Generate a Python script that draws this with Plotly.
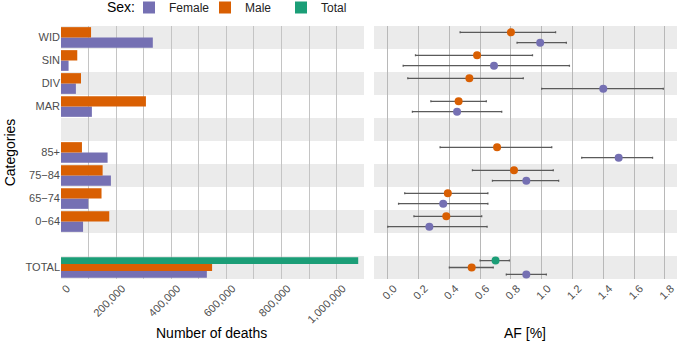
import plotly.graph_objects as go

# ---- data ----
rows_top_to_bottom = ["WID", "SIN", "DIV", "MAR", "", "85+", "75−84", "65−74", "0−64", "", "TOTAL"]
cats = ["WID", "SIN", "DIV", "MAR", "85+", "75−84", "65−74", "0−64", "TOTAL"]
deaths_female = [333000, 27500, 54000, 112000, 169000, 181000, 99000, 80000, 529000]
deaths_male = [109000, 59000, 72500, 308000, 76000, 151000, 147000, 175000, 548000]
total_cats = ["TOTAL"]
deaths_total = [1078000]

af_female = [0.99, 0.69, 1.40, 0.45, 1.50, 0.90, 0.36, 0.27, 0.90]
af_female_lo = [0.84, 0.10, 1.00, 0.16, 1.26, 0.68, 0.07, 0.00, 0.77]
af_female_hi = [1.16, 1.18, 1.79, 0.74, 1.72, 1.11, 0.65, 0.645, 1.03]
af_male = [0.80, 0.58, 0.53, 0.46, 0.71, 0.82, 0.39, 0.38, 0.545]
af_male_lo = [0.47, 0.18, 0.13, 0.28, 0.34, 0.55, 0.11, 0.17, 0.40]
af_male_hi = [1.09, 0.94, 0.88, 0.64, 1.065, 1.075, 0.65, 0.61, 0.685]
af_total = [0.70]
af_total_lo = [0.60]
af_total_hi = [0.79]

x_ticks_af = [0.0, 0.2, 0.4, 0.6, 0.8, 1.0, 1.2, 1.4, 1.6, 1.8]

COL = {"Female": "#7570B3", "Male": "#D95F02", "Total": "#1B9E77"}
W, H = 677, 347
FONT = "Liberation Sans, Arial, sans-serif"

n_rows = len(rows_top_to_bottom)
row_pos = {}
for i, r in enumerate(rows_top_to_bottom):
    if r:
        row_pos[r] = n_rows - 1 - i

DODGE = 0.9


def ngroups(c):
    return 3 if c in total_cats else 2


def slot(c, k):
    # k: 0 = Female, 1 = Male, 2 = Total ; returns (offset, width)
    n = ngroups(c)
    w = DODGE / n
    return -DODGE / 2 + k * w, w


fig = go.Figure()

series = [
    ("Female", cats, deaths_female, af_female, af_female_lo, af_female_hi, 0),
    ("Male", cats, deaths_male, af_male, af_male_lo, af_male_hi, 1),
    ("Total", total_cats, deaths_total, af_total, af_total_lo, af_total_hi, 2),
]

for name, cs, deaths, af, lo, hi, k in series:
    ys = [row_pos[c] for c in cs]
    offs = [slot(c, k)[0] for c in cs]
    wids = [slot(c, k)[1] for c in cs]
    fig.add_trace(go.Bar(
        x=deaths, y=ys, orientation="h", name=name, legendgroup=name,
        offset=offs, width=wids, marker=dict(color=COL[name], line=dict(width=0)),
        xaxis="x", yaxis="y", showlegend=True,
    ))
    yc = [row_pos[c] + slot(c, k)[0] + slot(c, k)[1] / 2 for c in cs]
    fig.add_trace(go.Scatter(
        x=af, y=yc, mode="markers", name=name, legendgroup=name, showlegend=False,
        marker=dict(color=COL[name], size=8),
        error_x=dict(type="data", symmetric=False,
                     array=[h - v for h, v in zip(hi, af)],
                     arrayminus=[v - l for v, l in zip(af, lo)],
                     color="#5a5a5a", thickness=1.3, width=1),
        xaxis="x2", yaxis="y2",
    ))

# background bands
shapes = []
for r in range(0, n_rows, 2):
    for xr in ("x domain", "x2 domain"):
        shapes.append(dict(type="rect", xref=xr, yref="y", x0=0, x1=1,
                           y0=r - 0.5, y1=r + 0.5, fillcolor="#EBEBEB",
                           line=dict(width=0), layer="below"))

ydom = [68 / H, 321 / H]
tickfont = dict(family=FONT, size=11, color="#4D4D4D")
titlefont = dict(family=FONT, size=14, color="#000000")


def label(text, xpx, ypx, size=14):
    return dict(text=text, x=xpx / W, y=1 - ypx / H, xref="paper", yref="paper",
                xanchor="center", yanchor="middle", showarrow=False,
                font=dict(family=FONT, size=size, color="#000"))


sex_lbl = label("Sex:", 105, 7)
sex_lbl["xanchor"] = "left"

fig.update_layout(
    width=W, height=H, margin=dict(l=0, r=0, t=0, b=0, autoexpand=False),
    paper_bgcolor="white", plot_bgcolor="rgba(0,0,0,0)",
    barmode="overlay", shapes=shapes,
    font=dict(family=FONT),
    legend=dict(orientation="h", x=129 / W, xanchor="left", y=1.0 + 7 / H, yanchor="top",
                itemwidth=30, entrywidth=31, entrywidthmode="pixels",
                font=dict(family=FONT, size=12, color="#222"),
                bgcolor="rgba(0,0,0,0)", itemclick=False),
    annotations=[sex_lbl,
                 label("Number of deaths", 212, 333),
                 label("AF [%]", 525, 333)],
    xaxis=dict(domain=[61 / W, 364 / W], range=[0, 1099000], anchor="y",
               automargin=False, ticklabelshift=6,
               tickformat=",", dtick=200000, tick0=0, tickangle=-45,
               showgrid=True, gridcolor="#C4C4C4", gridwidth=1,
               minor=dict(dtick=100000, showgrid=True, gridcolor="#C4C4C4", gridwidth=1),
               zeroline=False, showline=False, ticks="", tickfont=tickfont),
    yaxis=dict(domain=ydom, range=[-0.5, n_rows - 0.5], anchor="x",
               automargin=False,
               tickvals=[n_rows - 1 - i for i in range(n_rows)],
               ticktext=rows_top_to_bottom, showgrid=False, zeroline=False,
               ticks="", tickfont=tickfont,
               title=dict(text="Categories", font=titlefont, standoff=6)),
    xaxis2=dict(domain=[374 / W, 1.0], range=[-0.0897, 1.879], anchor="y2",
                automargin=False, ticklabelshift=6,
                tickvals=x_ticks_af, tickformat=".1f", tickangle=-45,
                showgrid=True, gridcolor="#B8B8B8", gridwidth=1,
                zeroline=False, showline=False, ticks="", tickfont=tickfont),
    yaxis2=dict(domain=ydom, matches="y", anchor="x2", showticklabels=False,
                automargin=False,
                showgrid=False, zeroline=False, ticks=""),
)

fig.write_html("out.html", config={"displayModeBar": False},
               post_script="document.body.style.margin='0';")
